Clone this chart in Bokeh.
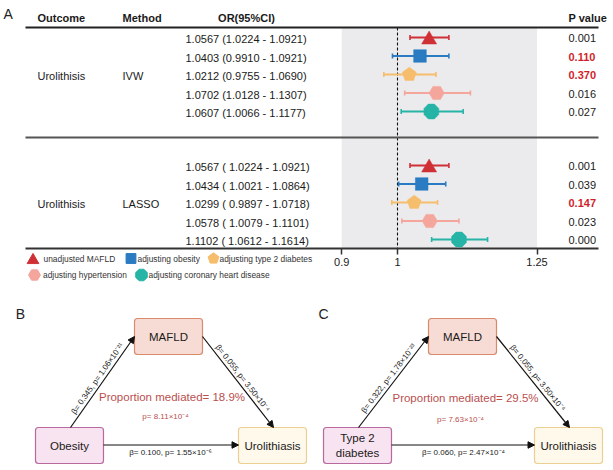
import math
from bokeh.plotting import figure
from bokeh.models import Range1d, LinearAxis, FixedTicker, ColumnDataSource, Arrow, NormalHead
from bokeh.core.properties import value
from bokeh.embed import file_html
from bokeh.resources import INLINE

# ---------------- data ----------------
outcome = "Urolithisis"
methods = ["IVW", "LASSO"]
models = ["unadjusted MAFLD", "adjusting obesity", "adjusting type 2 diabetes",
          "adjusting hypertension", "adjusting coronary heart disease"]
or_ivw = [1.0567, 1.0403, 1.0212, 1.0702, 1.0607]
lo_ivw = [1.0224, 0.9910, 0.9755, 1.0128, 1.0066]
hi_ivw = [1.0921, 1.0921, 1.0690, 1.1307, 1.1177]
p_ivw = [0.001, 0.110, 0.370, 0.016, 0.027]
or_lasso = [1.0567, 1.0434, 1.0299, 1.0578, 1.1102]
lo_lasso = [1.0224, 1.0021, 0.9897, 1.0079, 1.0612]
hi_lasso = [1.0921, 1.0864, 1.0718, 1.1101, 1.1614]
p_lasso = [0.001, 0.039, 0.147, 0.023, 0.000]
x_ticks = [0.9, 1, 1.25]
x_tick_labels = ["0.9", "1", "1.25"]

panels = [
    dict(tag="B", exposure="Obesity",
         a="β= 0.345, p= 1.06×10⁻²¹", b="β= 0.055, p= 3.50×10⁻⁴",
         c="β= 0.100, p= 1.55×10⁻⁶",
         prop="Proportion mediated= 18.9%", pp="p= 8.11×10⁻⁴"),
    dict(tag="C", exposure="Type 2\ndiabetes",
         a="β= 0.322, p= 1.78×10⁻²³", b="β= 0.055, p= 3.50×10⁻⁴",
         c="β= 0.060, p= 2.47×10⁻⁴",
         prop="Proportion mediated= 29.5%", pp="p= 7.63×10⁻⁴"),
]

# ---------------- styles / layout ----------------
colors = ["#cf3036", "#2a7bc1", "#f6bd6c", "#f4a59c", "#26b4a7"]
shapes = ["triangle", "square", "pentagon", "hexagon", "octagon"]
FONT = value("Liberation Sans")
W, H = 613, 470
PPU = 558.0                     # pixels per OR unit
xmin = 1 - 397 / PPU
xmax = xmin + W / PPU

p = figure(width=W, height=H, x_range=Range1d(xmin, xmax), y_range=Range1d(H, 0),
           x_axis_type=None, y_axis_type=None, toolbar_location=None,
           output_backend="svg", min_border=0)
p.extra_x_ranges = {"px": Range1d(0, W)}
p.outline_line_color = None
p.background_fill_color = "white"
p.border_fill_color = "white"


def shape_pts(kind, s=1.0):
    if kind == "triangle":
        pts = [(0, -6.5), (-7.5, 6.5), (7.5, 6.5)]
    elif kind == "square":
        pts = [(-6.3, -6.3), (6.3, -6.3), (6.3, 6.3), (-6.3, 6.3)]
    else:
        n, r, a0 = {"pentagon": (5, 7.3, -90), "hexagon": (6, 7.6, 0),
                    "octagon": (8, 8.0, 22.5)}[kind]
        pts = [(r * math.cos(math.radians(a0 + 360 * k / n)),
                r * math.sin(math.radians(a0 + 360 * k / n))) for k in range(n)]
    return [(dx * s, dy * s) for dx, dy in pts]


def txt(x, y, t, size="11px", align="left", baseline="middle", color="#1a1a1a",
        style="normal", angle=0.0):
    p.text(x=[x], y=[y], text=[t], text_font=FONT, text_font_size=size,
           text_align=align, text_baseline=baseline, text_color=color,
           text_font_style=style, angle=angle, x_range_name="px")


def hline(x0, x1, y, w, c):
    p.segment(x0=[x0], y0=[y], x1=[x1], y1=[y], line_width=w, line_color=c,
              x_range_name="px")


# ---------------- panel A ----------------
TOP, MID, BOT = 27, 137, 248
p.quad(left=[x_ticks[0]], right=[x_ticks[-1]], top=[TOP], bottom=[BOT],
       fill_color="#ebebed", line_color=None)
p.segment(x0=[1], y0=[TOP], x1=[1], y1=[BOT + 2], line_color="#111",
          line_width=1.1, line_dash="3 2")

txt(3, 13, "A", size="14px", color="#222")
txt(37, 17, "Outcome", style="bold")
txt(122, 17, "Method", style="bold")
txt(246, 17, "OR(95%CI)", align="center", style="bold")
txt(568, 17, "P value", style="bold")
hline(25, 598, TOP, 1.8, "#222")
hline(25, 598, MID, 2.0, "#555")
hline(25, 598, BOT, 2.0, "#333")

blocks = [
    (methods[0], or_ivw, lo_ivw, hi_ivw, p_ivw, [37, 55.5, 74, 92.5, 111], "{:.4f} ({:.4f} - {:.4f})"),
    (methods[1], or_lasso, lo_lasso, hi_lasso, p_lasso, [165, 183.5, 202, 220.5, 239], "{:.4f} ( {:.4f} - {:.4f})"),
]
for meth, est, lo, hi, pv, ys, fmt in blocks:
    txt(37, ys[2] + 1, outcome)
    txt(122, ys[2] + 1, meth)
    for i in range(5):
        txt(185, ys[i] + 1.5, fmt.format(est[i], lo[i], hi[i]))
        sig = pv[i] > 0.05
        txt(568, ys[i] + 0.5, "{:.3f}".format(pv[i]),
            color="#d01f2b" if sig else "#1a1a1a", style="bold" if sig else "normal")
    src = ColumnDataSource(dict(lo=lo, hi=hi, y=ys, y0=[v - 2.5 for v in ys],
                                y1=[v + 2.5 for v in ys], c=colors))
    p.segment(x0="lo", y0="y", x1="hi", y1="y", line_color="c", line_width=2, source=src)
    p.segment(x0="lo", y0="y0", x1="lo", y1="y1", line_color="c", line_width=1.6, source=src)
    p.segment(x0="hi", y0="y0", x1="hi", y1="y1", line_color="c", line_width=1.6, source=src)
    xs, yss = [], []
    for i in range(5):
        pts = shape_pts(shapes[i])
        xs.append([est[i] + dx / PPU for dx, dy in pts])
        yss.append([ys[i] + dy for dx, dy in pts])
    p.patches(xs=xs, ys=yss, fill_color=colors, line_color=colors, line_width=0.5)

ax = LinearAxis(ticker=FixedTicker(ticks=x_ticks), fixed_location=BOT)
ax.major_label_overrides = {t: l for t, l in zip(x_ticks, x_tick_labels)}
ax.axis_line_color = None
ax.major_tick_in = 0
ax.major_tick_out = 6
ax.major_tick_line_width = 1.5
ax.major_tick_line_color = "#333"
ax.minor_tick_line_color = None
ax.major_label_text_font = "Liberation Sans"
ax.major_label_text_font_size = "11px"
ax.major_label_text_color = "#1a1a1a"
ax.major_label_standoff = 3
p.add_layout(ax, "below")

# legend (manual, custom shapes)
leg = [(32.5, 258, 43), (130.5, 258, 137), (213, 258, 219), (34, 274.5, 42.5), (141, 274.5, 148)]
for i, (mx, my, tx) in enumerate(leg):
    pts = shape_pts(shapes[i], 0.78)
    p.patch(x=[mx + dx for dx, dy in pts], y=[my + dy for dx, dy in pts],
            fill_color=colors[i], line_color=colors[i], x_range_name="px")
    txt(tx, my, models[i], size="8.4px", color="#333")

# ---------------- panels B, C ----------------
geo = [dict(lab=(20, 313), m=134, e=35, u=238, prop=(171.5, 396), pp=(165, 416), c=(170, 452)),
       dict(lab=(323, 313), m=428, e=323, u=534, prop=(465, 397), pp=(460, 419), c=(463, 452))]
BW, BT, BB = 68, 318, 354
LT, LB = 427, 463
for pan, g in zip(panels, geo):
    txt(g["lab"][0], g["lab"][1], pan["tag"], size="14px", align="center", color="#222")
    p.quad(left=[g["m"]], right=[g["m"] + BW], top=[BT], bottom=[BB], fill_color="#f7dcd5",
           line_color="#d98a6c", line_width=1.2, border_radius=3, x_range_name="px")
    p.quad(left=[g["e"]], right=[g["e"] + BW], top=[LT], bottom=[LB], fill_color="#f8e3f0",
           line_color="#b8699f", line_width=1.2, border_radius=3, x_range_name="px")
    p.quad(left=[g["u"]], right=[g["u"] + BW], top=[LT], bottom=[LB], fill_color="#fff9ec",
           line_color="#eccf92", line_width=1.2, border_radius=3, x_range_name="px")
    txt(g["m"] + BW / 2, (BT + BB) / 2, "MAFLD", size="11.5px", align="center")
    txt(g["e"] + BW / 2, (LT + LB) / 2, pan["exposure"], size="11.5px", align="center")
    txt(g["u"] + BW / 2, (LT + LB) / 2, "Urolithiasis", size="11.5px", align="center")

    segs = [((g["e"] + 35, LT), (g["m"], (BT + BB) / 2), pan["a"]),
            ((g["m"] + BW, (BT + BB) / 2), (g["u"] + 35, LT), pan["b"]),
            ((g["e"] + BW, 444.5), (g["u"], 444.5), None)]
    for (x0, y0), (x1, y1), lab in segs:
        p.add_layout(Arrow(end=NormalHead(size=6.5, fill_color="#111", line_color="#111"),
                           x_start=x0, y_start=y0, x_end=x1, y_end=y1,
                           line_width=1.2, line_color="#111", x_range_name="px"))
        if lab:
            a = math.atan2(-(y1 - y0), x1 - x0)
            ux, uy = -math.sin(a), -math.cos(a)
            mx, my = (x0 + x1) / 2 + 1.5 * ux, (y0 + y1) / 2 + 1.5 * uy
            txt(mx, my, lab, size="8px", align="center", baseline="bottom", angle=a)
    txt(g["c"][0], g["c"][1], pan["c"], size="8px", align="center")
    txt(g["prop"][0], g["prop"][1], pan["prop"], size="11.5px", align="center", color="#b94f4f")
    txt(g["pp"][0], g["pp"][1], pan["pp"], size="8px", align="center", color="#b94f4f")

open("out.html", "w").write(file_html(p, INLINE))
